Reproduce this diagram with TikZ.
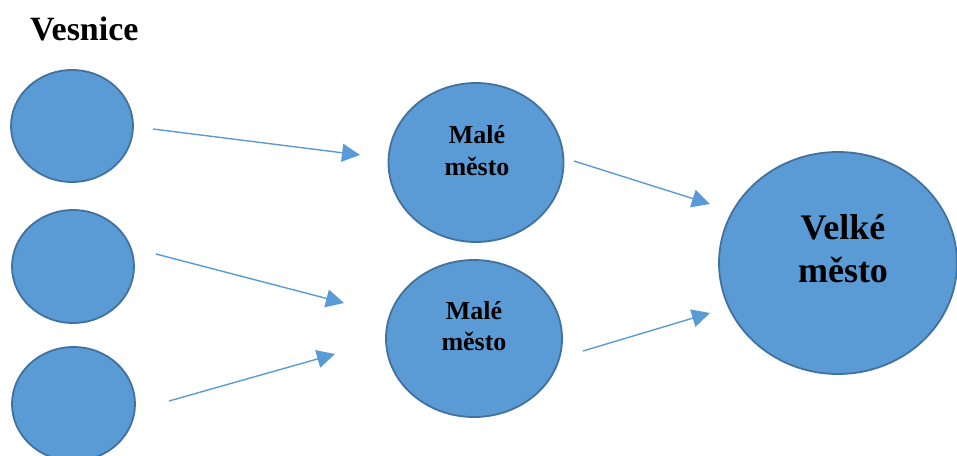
\documentclass[tikz,border=0pt]{standalone}
\usepackage{fontspec}
\setmainfont{Liberation Serif}
\usetikzlibrary{shapes.geometric,arrows.meta}
\definecolor{fillblue}{HTML}{5B9BD5}
\definecolor{edgeblue}{HTML}{41719C}
\tikzset{
  town/.style={ellipse, draw=edgeblue, fill=fillblue, line width=1.8pt, inner sep=0pt},
  flow/.style={draw=fillblue, line width=1.4pt, -{Triangle[length=18pt,width=18pt]}},
  lbl/.style={font=\bfseries, align=center, inner sep=0pt, anchor=base}
}
\begin{document}
\begin{tikzpicture}[x=1pt,y=-1pt]
\useasboundingbox (0,0) rectangle (957,455);
\node[town, minimum width=122pt, minimum height=112pt] (v1) at (72,126) {};
\node[town, minimum width=122pt, minimum height=113pt] (v2) at (73,266.5) {};
\node[town, minimum width=123pt, minimum height=114pt] (v3) at (73.5,404) {};
\node[town, minimum width=175pt, minimum height=159pt] (m1) at (476,162.5) {};
\node[town, minimum width=176pt, minimum height=157pt] (m2) at (474,338.5) {};
\node[town, minimum width=238pt, minimum height=222pt] (c) at (838,263) {};
\node[lbl, anchor=base west, font=\bfseries\fontsize{34}{40}\selectfont] (title) at (30,40) {Vesnice};
\node[lbl, font=\bfseries\fontsize{26}{32}\selectfont] (t1) at (477,175) {Malé\\město};
\node[lbl, font=\bfseries\fontsize{26}{31}\selectfont] (t2) at (474,350) {Malé\\město};
\node[lbl, font=\bfseries\fontsize{36}{43}\selectfont] (t3) at (843,282) {Velké\\město};
\coordinate (a1s) at (153,129); \coordinate (a1e) at (360,155);
\coordinate (a2s) at (156,254); \coordinate (a2e) at (344,303);
\coordinate (a3s) at (169,401); \coordinate (a3e) at (335,354);
\coordinate (a4s) at (574,161); \coordinate (a4e) at (710,204);
\coordinate (a5s) at (583,351); \coordinate (a5e) at (710,313);
\draw[flow] (a1s) -- (a1e);
\draw[flow] (a2s) -- (a2e);
\draw[flow] (a3s) -- (a3e);
\draw[flow] (a4s) -- (a4e);
\draw[flow] (a5s) -- (a5e);
\end{tikzpicture}
\end{document}
